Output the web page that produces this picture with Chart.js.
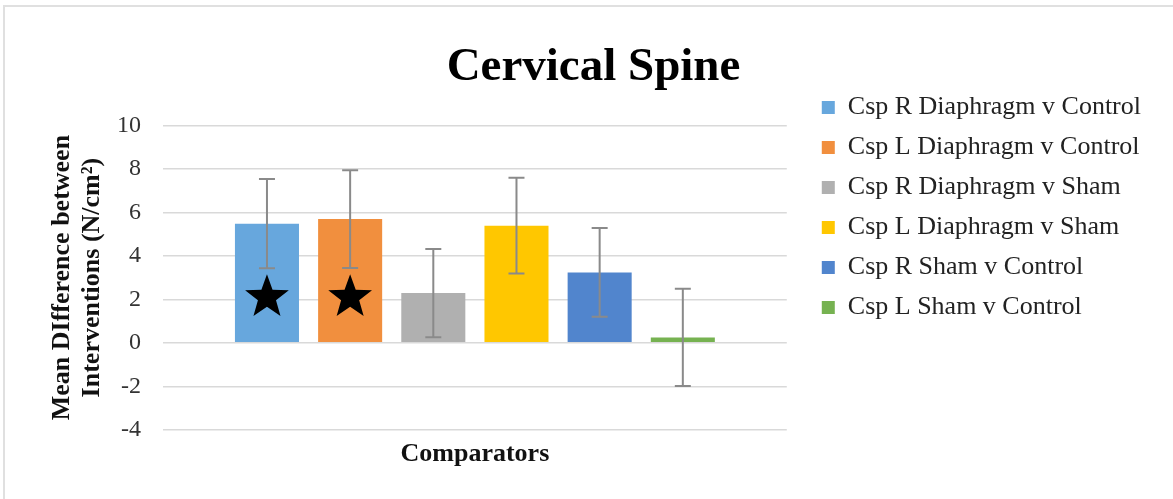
<!DOCTYPE html>
<html>
<head>
<meta charset="utf-8">
<script src="https://cdn.jsdelivr.net/npm/chart.js@4.4.0/dist/chart.umd.min.js"></script>
<style>
  body { margin: 0; background: #fff; }
  #frame { position: absolute; left: 3px; top: 5px; width: 1200px; height: 520px; border-left: 2px solid #e0e0e0; border-top: 2px solid #e0e0e0; }
  #wrap { position: absolute; left: 0; top: 0; width: 1173px; height: 499px; }
</style>
</head>
<body>
<div id="frame"></div>
<div id="wrap"><canvas id="chart" width="1173" height="499"></canvas></div>
<script>
// Data
var categories = [''];
var seriesNames = [
    'Csp R Diaphragm v Control',
    'Csp L Diaphragm v Control',
    'Csp R Diaphragm v Sham',
    'Csp L Diaphragm v Sham',
    'Csp R Sham v Control',
    'Csp L Sham v Control'
];
var meanDiff = [5.48, 5.69, 2.29, 5.39, 3.24, 0.25];
var errorSize = [2.05, 2.25, 2.03, 2.2, 2.04, 2.24];
var starred = [true, true, false, false, false, false];
var starLevel = 2;
var yMin = -4, yMax = 10, yStep = 2;

var colors = ['#67A7DD', '#F18F3E', '#B0B0B0', '#FFC700', '#5185CD', '#76B251'];

var serif = '"Liberation Serif", "Times New Roman", serif';

var datasets = seriesNames.map(function(name, i) {
    return {
        label: name,
        data: [meanDiff[i]],
        errorBar: errorSize[i],
        star: starred[i],
        backgroundColor: colors[i],
        borderWidth: 0,
        categoryPercentage: 0.8,
        barPercentage: 0.77
    };
});

// error bars and stars drawn over the bars
var extrasPlugin = {
    id: 'extras',
    afterDatasetsDraw: function(chart) {
        var ctx = chart.ctx;
        var yScale = chart.scales.y;
        ctx.save();
        chart.data.datasets.forEach(function(ds, i) {
            var bar = chart.getDatasetMeta(i).data[0];
            var v = ds.data[0];
            var x = bar.x;

            if (ds.star) {
                var cy = yScale.getPixelForValue(starLevel) - 2;
                var outer = 23, inner = 9.5;
                ctx.beginPath();
                for (var k = 0; k < 10; k++) {
                    var r = k % 2 === 0 ? outer : inner;
                    var a = -Math.PI / 2 + k * Math.PI / 5;
                    var px = x + r * Math.cos(a);
                    var py = cy + r * Math.sin(a);
                    if (k === 0) ctx.moveTo(px, py); else ctx.lineTo(px, py);
                }
                ctx.closePath();
                ctx.fillStyle = '#000';
                ctx.fill();
            }

            var yTop = yScale.getPixelForValue(v + ds.errorBar);
            var yBot = yScale.getPixelForValue(v - ds.errorBar);
            ctx.strokeStyle = '#8a8a8a';
            ctx.lineWidth = 2;
            ctx.beginPath();
            ctx.moveTo(x, yTop); ctx.lineTo(x, yBot);
            ctx.moveTo(x - 8, yTop); ctx.lineTo(x + 8, yTop);
            ctx.moveTo(x - 8, yBot); ctx.lineTo(x + 8, yBot);
            ctx.stroke();
        });
        ctx.restore();
    }
};

var ctx = document.getElementById('chart').getContext('2d');
var myChart = new Chart(ctx, {
    type: 'bar',
    data: {
        labels: categories,
        datasets: datasets
    },
    plugins: [extrasPlugin],
    options: {
        responsive: false,
        animation: false,
        layout: { padding: { left: 36, right: 22, top: 0, bottom: 29 } },
        plugins: {
            tooltip: { enabled: false },
            title: {
                display: true,
                text: 'Cervical Spine',
                color: '#000',
                font: { family: serif, size: 47, weight: 'bold', lineHeight: 1.2 },
                padding: { top: 40, bottom: 29 }
            },
            legend: {
                position: 'right',
                align: 'start',
                maxWidth: 360,
                title: { display: true, text: '', font: { size: 12, lineHeight: 1.2 }, padding: { top: 66, bottom: 0 } },
                labels: {
                    boxWidth: 13,
                    boxHeight: 13,
                    padding: 14,
                    color: '#222',
                    font: { family: serif, size: 26 }
                }
            }
        },
        scales: {
            x: {
                grid: { display: false, drawTicks: false },
                border: { display: false },
                ticks: { display: false },
                title: {
                    display: true,
                    text: 'Comparators',
                    color: '#111',
                    font: { family: serif, size: 26, weight: 'bold', lineHeight: 1.2 },
                    padding: { top: 9, bottom: 0 }
                }
            },
            y: {
                min: yMin,
                max: yMax,
                ticks: {
                    stepSize: yStep,
                    padding: 22,
                    color: '#333',
                    font: { family: serif, size: 24 }
                },
                grid: { color: '#d9d9d9', lineWidth: 1.5, drawTicks: false },
                border: { display: false },
                title: {
                    display: true,
                    text: ['Mean DIfference between', 'Interventions (N/cm\u00B2)'],
                    color: '#111',
                    font: { family: serif, size: 26, weight: 'bold', lineHeight: 1.15 },
                    padding: { top: 11, bottom: 0 }
                },
                afterFit: function(scale) { scale.width = 127; }
            },
            gap: {
                position: 'right',
                display: true,
                grid: { display: false },
                border: { display: false },
                ticks: { display: false },
                afterFit: function(scale) { scale.width = 21; }
            }
        }
    }
});
</script>
</body>
</html>
